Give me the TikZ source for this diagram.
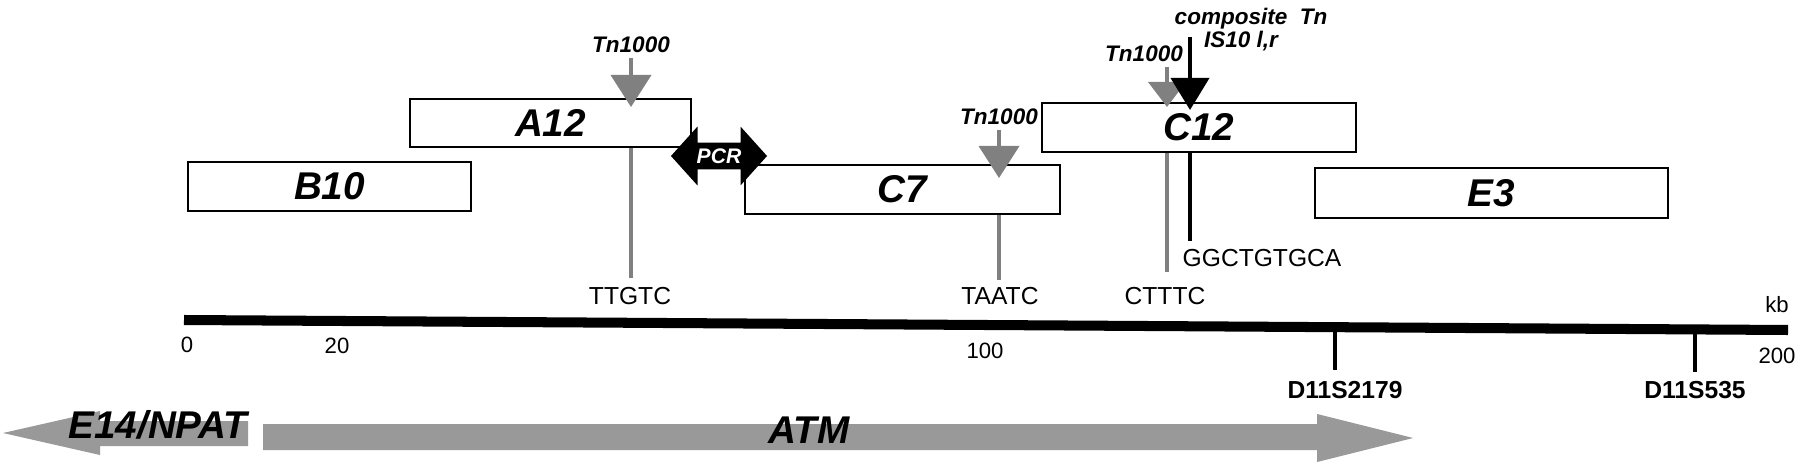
\documentclass[tikz,border=0pt]{standalone}
\usepackage{fontspec}
\setmainfont{Liberation Sans}
\usetikzlibrary{arrows.meta, positioning, shapes.arrows}

\definecolor{tngray}{gray}{0.5}
\definecolor{genegray}{gray}{0.6}

\tikzset{
  clone/.style={draw, line width=0.7pt, inner sep=0pt, minimum height=0.49cm,
    font=\fontsize{11}{11}\selectfont\bfseries\itshape},
  tnlabel/.style={inner sep=0pt, font=\fontsize{6.4}{6.4}\selectfont\bfseries\itshape},
  seq/.style={inner sep=0pt, font=\fontsize{7}{7}\selectfont},
  numlabel/.style={inner sep=0pt, font=\fontsize{6.3}{6.3}\selectfont},
  marker/.style={inner sep=0pt, font=\fontsize{7}{7}\selectfont\bfseries},
  genelabel/.style={inner sep=0pt, font=\fontsize{11}{11}\selectfont\bfseries\itshape},
  tnarrow/.style={draw=tngray, line width=1.1pt, -{Triangle[width=0.4cm, length=0.32cm]}},
  isarrow/.style={draw=black, line width=1.1pt, -{Triangle[width=0.38cm, length=0.32cm]}},
  tnline/.style={draw=tngray, line width=0.9pt},
  isline/.style={draw=black, line width=0.9pt},
  markline/.style={draw=black, line width=1.3pt}
}

\begin{document}
\begin{tikzpicture}[x=0.01cm, y=-0.01cm]
\useasboundingbox (0,0) rectangle (1800,467);

\node[clone, minimum width=2.83cm] (B10) at (329.5,186.5) {B10};
\node[clone, minimum width=2.81cm, minimum height=0.48cm] (A12) at (550.5,123) {A12};
\node[clone, minimum width=3.15cm] (C7) at (902.5,189.5) {C7};
\node[clone, minimum width=3.14cm] (C12) at (1199,127.5) {C12};
\node[clone, minimum width=3.53cm, minimum height=0.5cm] (E3) at (1491.5,193) {E3};

\node[double arrow, fill=black, text=white, inner xsep=0pt, inner ysep=1.5pt,
  minimum height=0.96cm, double arrow head extend=0.16cm, double arrow tip angle=96,
  font=\fontsize{6}{6}\selectfont\bfseries\itshape] (pcr) at (719,156) {PCR};

\node[tnlabel] (tnA) at (631,45) {Tn1000};
\node[tnlabel] (tnB) at (999,117) {Tn1000};
\node[tnlabel] (tnC) at (1144,54) {Tn1000};
\node[tnlabel] (comp) at (1251,19) {composite~~Tn};
\node[tnlabel] (is10) at (1241,41) {IS10 l,r};

\coordinate (tnCtop) at (1167,67);
\coordinate (compTop) at (1190,37);
\coordinate (tipA) at (631,107);
\coordinate (tipB) at (999,178);
\coordinate (tipC) at (1167,107);
\coordinate (tipK) at (1190,110);

\draw[tnarrow, shorten <=0.04cm] (tnA) -- (tipA);
\draw[tnarrow, shorten <=0.04cm] (tnB) -- (tipB);
\draw[tnarrow, -{Triangle[width=0.37cm, length=0.25cm]}] (tnCtop) -- (tipC);
\draw[isarrow] (compTop) -- (tipK);

\node[seq] (ttgtc) at (630,296) {TTGTC};
\node[seq] (taatc) at (1000,296) {TAATC};
\node[seq] (ctttc) at (1165,296) {CTTTC};
\node[seq] (gg) at (1262,258) {GGCTGTGCA};

\draw[tnline, shorten >=0.09cm] (tipA |- A12.south) -- (tipA |- ttgtc.north);
\draw[tnline, shorten >=0.07cm] (tipB |- C7.south) -- (tipB |- taatc.north);
\draw[tnline, shorten >=0.15cm] (tipC |- C12.south) -- (tipC |- ctttc.north);
\draw[isline, shorten >=0.08cm] (tipK |- C12.south) -- (tipK |- gg.north);

\coordinate (kb0) at (184,320);
\coordinate (kb200) at (1788,330);
\draw[line width=2.85pt] (kb0) -- (kb200);

\foreach \v/\x/\y in {0/187/345, 20/337/346, 100/985/351, 200/1777/356}{
  \node[numlabel] (t\v) at (\x,\y) {\v};
}
\node[numlabel] (kb) at (1777,305) {kb};

\node[marker] (m2179) at (1345,390) {D11S2179};
\node[marker] (m535) at (1695,390) {D11S535};
\coordinate (s2179) at (1335,327);
\coordinate (s535) at (1695,330);
\draw[markline, shorten >=0.11cm] (s2179) -- (s2179 |- m2179.north);
\draw[markline, shorten >=0.09cm] (s535) -- (s535 |- m535.north);

\fill[genegray] (3,433) -- (100,411) -- (100,421) -- (248,421) -- (248,446)
  -- (100,446) -- (100,455) -- cycle;
\fill[genegray] (263,424) -- (1317,424) -- (1317,414) -- (1413,438) -- (1317,462)
  -- (1317,450) -- (263,450) -- cycle;
\node[genelabel] (npat) at (158,425) {E14/NPAT};
\node[genelabel] (atm) at (809,430) {ATM};
\end{tikzpicture}
\end{document}
